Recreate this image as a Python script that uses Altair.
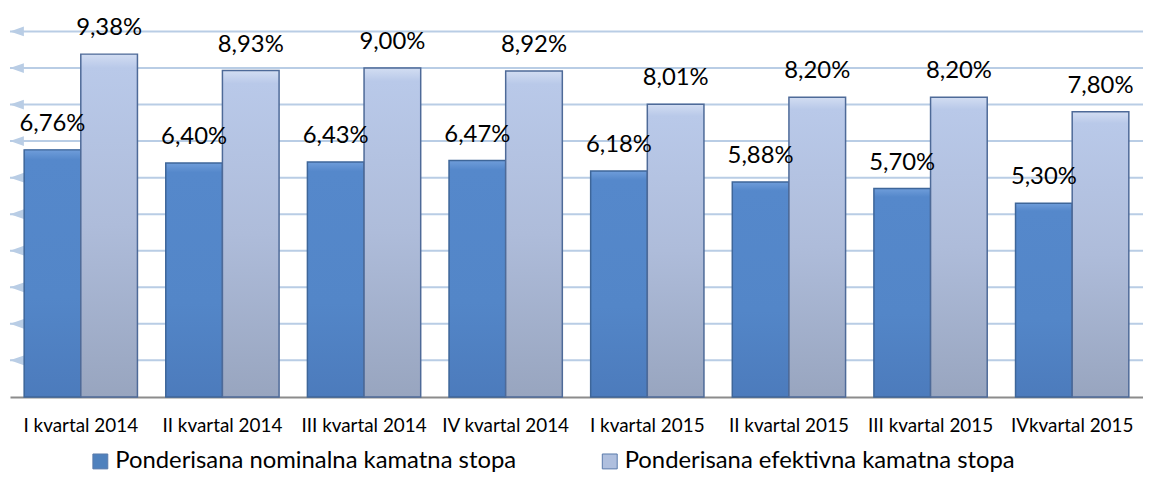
import altair as alt
import pandas as pd

FONT = "Lato"

quarters = ["I kvartal 2014", "II kvartal 2014", "III kvartal 2014", "IV kvartal 2014",
            "I kvartal 2015", "II kvartal 2015", "III kvartal 2015", "IVkvartal 2015"]
nominal = [6.76, 6.40, 6.43, 6.47, 6.18, 5.88, 5.70, 5.30]
effective = [9.38, 8.93, 9.00, 8.92, 8.01, 8.20, 8.20, 7.80]
series = ["Ponderisana nominalna kamatna stopa", "Ponderisana efektivna kamatna stopa"]
grid_values = [1, 2, 3, 4, 5, 6, 7, 8, 9, 10]


def fmt(v):
    return f"{v:.2f}".replace(".", ",") + "%"


rows = []
for q, n, e in zip(quarters, nominal, effective):
    rows.append({"q": q, "s": series[0], "v": n, "lab": fmt(n)})
    rows.append({"q": q, "s": series[1], "v": e, "lab": fmt(e)})
df = pd.DataFrame(rows)
grid = pd.DataFrame({"g": grid_values})

W, H = 1141, 368

x = alt.X("q:N", sort=quarters,
          scale=alt.Scale(domain=quarters, paddingInner=0.2, paddingOuter=0.1),
          axis=alt.Axis(title=None, labelAngle=0, labelFontSize=19, labelColor="#000000",
                        labelFont=FONT, ticks=False, domainColor="#8C8C8C", domainWidth=2,
                        labelPadding=20, grid=False, labelLimit=0))
xo = alt.XOffset("s:N", sort=series, scale=alt.Scale(domain=series, paddingInner=0, paddingOuter=0))
y = alt.Y("v:Q", scale=alt.Scale(domain=[0, 10], nice=False, zero=True), axis=None)
yg = alt.Y("g:Q", scale=alt.Scale(domain=[0, 10], nice=False, zero=True), axis=None)

gridlines = alt.Chart(grid).mark_rule(color="#B9CDE5", strokeWidth=2).encode(
    y=yg, x=alt.value(0), x2=alt.value(W))

arrows = alt.Chart(grid).mark_point(
    shape="M -1 0 L 1 -0.7 L 1 0.7 Z", filled=True, color="#B9CDE5", opacity=1, size=196
).encode(y=yg, x=alt.value(7))

solid = alt.Chart(df).mark_bar().encode(
    x=x, xOffset=xo, y=y,
    color=alt.Color("s:N", sort=series,
                    scale=alt.Scale(domain=series, range=["#4F81BD", "#AFBFDE"]),
                    legend=alt.Legend(title=None, orient="none", legendX=79, legendY=421,
                                      direction="horizontal", columns=2, symbolType="square",
                                      symbolSize=225, labelFontSize=24, labelFont=FONT,
                                      labelColor="#000000", columnPadding=82, labelOffset=3,
                                      labelLimit=0,
                                      symbolStrokeColor="#5A7AAA", symbolStrokeWidth=1)))

grad_nom = alt.Gradient(gradient="linear", x1=0, x2=0, y1=0, y2=1, stops=[
    alt.GradientStop(color="#6F9DDA", offset=0),
    alt.GradientStop(color="#5588CB", offset=0.04),
    alt.GradientStop(color="#5386C8", offset=0.6),
    alt.GradientStop(color="#4C7BBC", offset=1)])
grad_eff = alt.Gradient(gradient="linear", x1=0, x2=0, y1=0, y2=1, stops=[
    alt.GradientStop(color="#D2DDF2", offset=0),
    alt.GradientStop(color="#B9C9E9", offset=0.04),
    alt.GradientStop(color="#AEBCDA", offset=0.5),
    alt.GradientStop(color="#98A5BF", offset=1)])

bars_nom = alt.Chart(df).transform_filter(alt.datum.s == series[0]).mark_bar(
    fill=grad_nom, stroke="#3E6699", strokeWidth=1.5).encode(x=x, xOffset=xo, y=y)
bars_eff = alt.Chart(df).transform_filter(alt.datum.s == series[1]).mark_bar(
    fill=grad_eff, stroke="#4E6A98", strokeWidth=1.5).encode(x=x, xOffset=xo, y=y)

labels = alt.Chart(df).mark_text(dy=-19, baseline="alphabetic", fontSize=24, font=FONT,
                                 color="#000000").encode(x=x, xOffset=xo, y=y, text="lab:N")

chart = alt.layer(gridlines, arrows, solid, bars_nom, bars_eff, labels).properties(
    width=W, height=H,
    padding={"left": 2, "top": 22, "right": 0, "bottom": 75},
    autosize=alt.AutoSizeParams(type="none"),
).configure_view(stroke=None)

chart.save("out.html", embed_options={"renderer": "svg", "actions": False})
